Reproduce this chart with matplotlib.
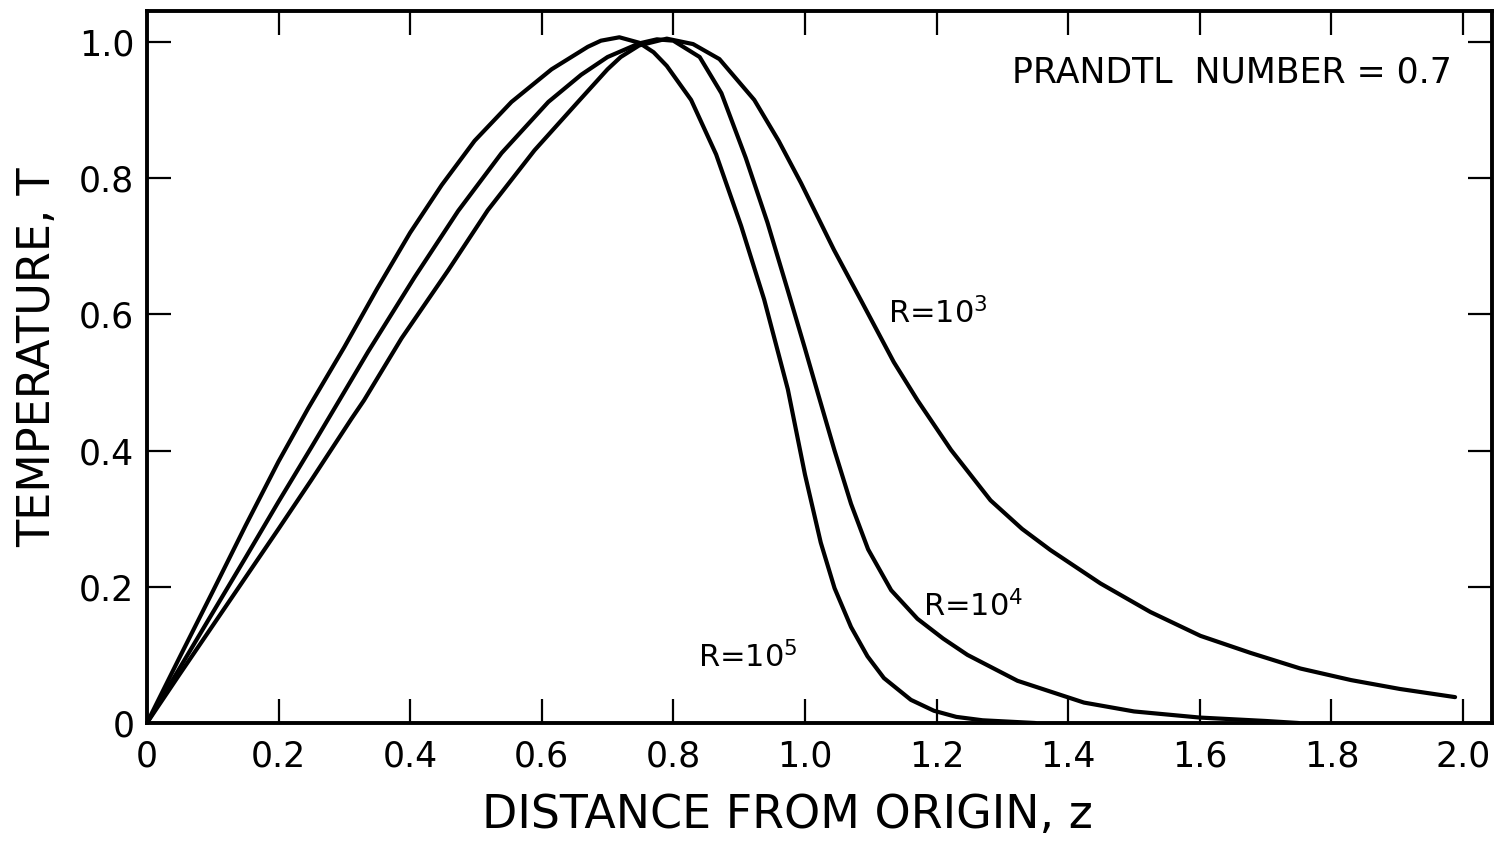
import matplotlib
matplotlib.use("Agg")
import matplotlib.pyplot as plt

# ---- data ----
# R = 1e5
z_r5 = [0, 0.05, 0.10, 0.15, 0.20, 0.245, 0.30, 0.35, 0.40, 0.448, 0.498, 0.554, 0.615, 0.67, 0.69,
        0.718, 0.748, 0.77, 0.79, 0.827, 0.865, 0.903, 0.938, 0.974, 1.00, 1.024, 1.045, 1.07, 1.095,
        1.12, 1.161, 1.196, 1.23, 1.27, 1.35]
T_r5 = [0, 0.097, 0.193, 0.29, 0.384, 0.462, 0.552, 0.638, 0.72, 0.79, 0.855, 0.912, 0.96, 0.993, 1.002,
        1.007, 0.999, 0.985, 0.965, 0.915, 0.835, 0.73, 0.622, 0.49, 0.365, 0.265, 0.198, 0.141, 0.098,
        0.066, 0.034, 0.018, 0.009, 0.004, 0.0]

# R = 1e4
z_r4 = [0, 0.05, 0.10, 0.15, 0.20, 0.25, 0.29, 0.336, 0.407, 0.473, 0.539, 0.61, 0.66, 0.70, 0.748,
        0.775, 0.80, 0.84, 0.873, 0.91, 0.943, 0.974, 1.00, 1.02, 1.045, 1.07, 1.096, 1.131, 1.171,
        1.21, 1.247, 1.323, 1.424, 1.50, 1.60, 1.70, 1.75]
T_r4 = [0, 0.081, 0.162, 0.243, 0.325, 0.405, 0.47, 0.545, 0.655, 0.752, 0.837, 0.912, 0.952, 0.978, 0.998,
        1.004, 1.002, 0.978, 0.925, 0.83, 0.735, 0.635, 0.55, 0.483, 0.4, 0.322, 0.255, 0.195, 0.153,
        0.124, 0.100, 0.062, 0.030, 0.017, 0.008, 0.003, 0.0]

# R = 1e3
z_r3 = [0, 0.05, 0.10, 0.15, 0.20, 0.25, 0.311, 0.33, 0.387, 0.458, 0.518, 0.589, 0.655, 0.70, 0.72,
        0.748, 0.79, 0.83, 0.87, 0.923, 0.96, 0.994, 1.044, 1.085, 1.135, 1.171, 1.222, 1.282, 1.33,
        1.373, 1.449, 1.525, 1.601, 1.677, 1.753, 1.83, 1.904, 1.988]
T_r3 = [0, 0.072, 0.143, 0.214, 0.285, 0.357, 0.447, 0.474, 0.565, 0.665, 0.753, 0.841, 0.912, 0.96, 0.978,
        0.995, 1.005, 0.997, 0.975, 0.915, 0.855, 0.793, 0.695, 0.621, 0.53, 0.474, 0.401, 0.327, 0.285,
        0.254, 0.205, 0.163, 0.128, 0.103, 0.08, 0.063, 0.05, 0.038]

x_ticks = [0, 0.2, 0.4, 0.6, 0.8, 1.0, 1.2, 1.4, 1.6, 1.8, 2.0]
x_tick_labels = ["0", "0.2", "0.4", "0.6", "0.8", "1.0", "1.2", "1.4", "1.6", "1.8", "2.0"]
y_ticks = [0, 0.2, 0.4, 0.6, 0.8, 1.0]
y_tick_labels = ["0", "0.2", "0.4", "0.6", "0.8", "1.0"]

plt.rcParams['font.family'] = ['DejaVu Sans']
plt.rcParams['mathtext.default'] = 'regular'

fig = plt.figure(figsize=(14.99, 8.51), dpi=100)
ax = fig.add_axes([0.098, 0.1504, 0.8973, 0.8366])

lw = 3.0
for z, T in [(z_r5, T_r5), (z_r4, T_r4), (z_r3, T_r3)]:
    ax.plot(z, T, color='black', lw=lw, solid_capstyle='round', solid_joinstyle='round')

ax.set_xlim(0, 2.044)
ax.set_ylim(0, 1.0455)
ax.set_xticks(x_ticks)
ax.set_xticklabels(x_tick_labels)
ax.set_yticks(y_ticks)
ax.set_yticklabels(y_tick_labels)
ax.tick_params(direction='in', length=17, width=1.6, top=True, right=True,
               labelsize=25, pad=9, colors='black')
ax.tick_params(axis='x', pad=12)
for s in ax.spines.values():
    s.set_linewidth(2.8)

ax.set_xlabel("DISTANCE FROM ORIGIN, z", fontsize=33, x=0.476, labelpad=14)
ax.set_ylabel("TEMPERATURE, T", fontsize=32, y=0.514, labelpad=14)

ax.text(1.983, 0.94, "PRANDTL  NUMBER = 0.7", ha='right', va='baseline', fontsize=25)
ax.text(1.126, 0.587, "R=10$^{3}$", ha='left', va='baseline', fontsize=22)
ax.text(1.179, 0.156, "R=10$^{4}$", ha='left', va='baseline', fontsize=22)
ax.text(0.838, 0.082, "R=10$^{5}$", ha='left', va='baseline', fontsize=22)

fig.savefig("out.png", dpi=100)
